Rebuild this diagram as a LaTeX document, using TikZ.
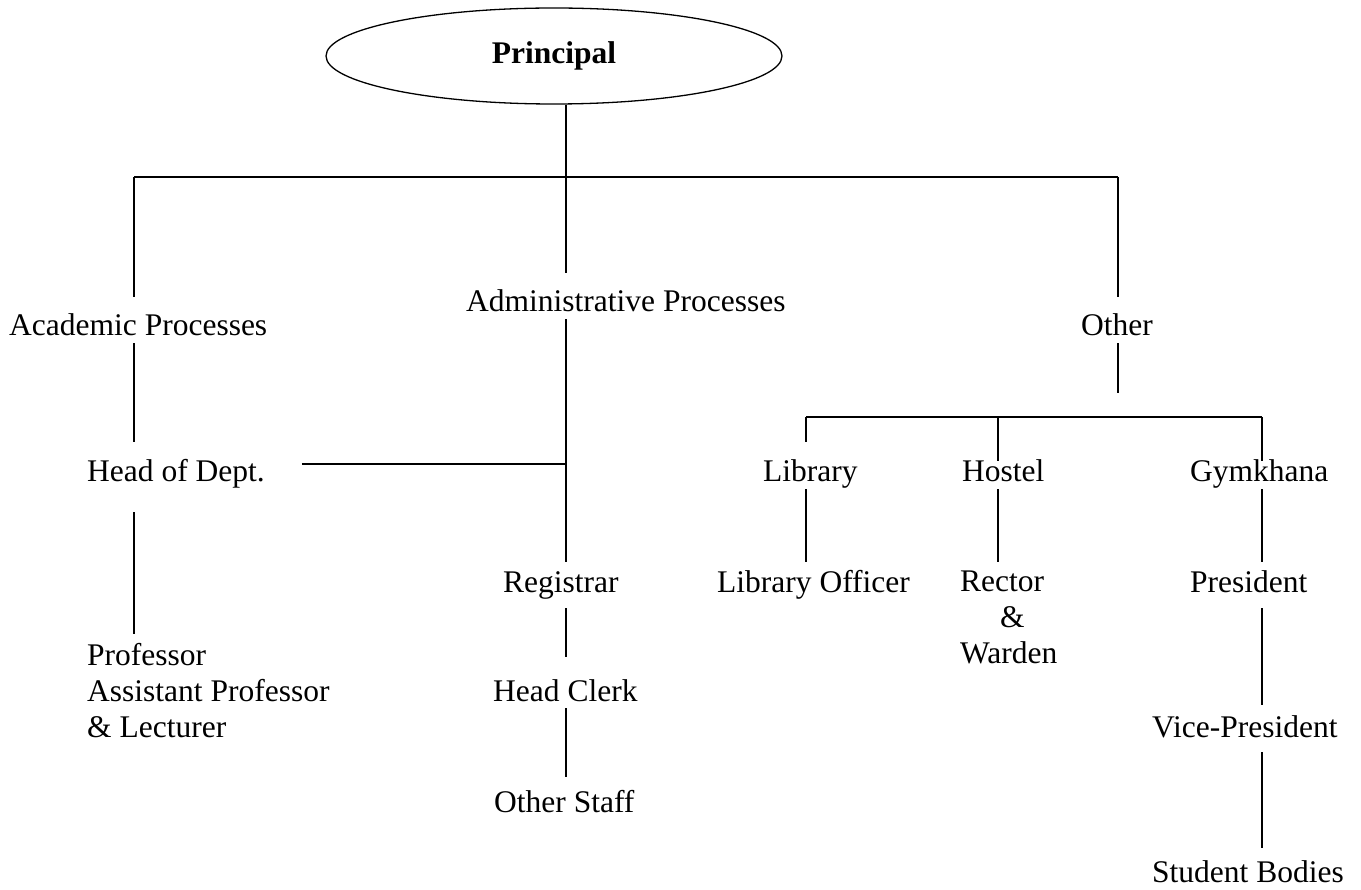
\documentclass[tikz,border=0pt]{standalone}
\usepackage{fontspec}
\setmainfont{Liberation Serif}
\usetikzlibrary{shapes.geometric}

\tikzstyle{lbl} = [inner sep=0pt, anchor=base west, text height=21pt, text depth=7pt, font=\fontsize{31.5}{36}\selectfont]
\tikzstyle{multi} = [inner sep=0pt, anchor=north west, align=left, font=\fontsize{31.5}{36}\selectfont]
\tikzstyle{link} = [line width=1.6pt]

\begin{document}
\begin{tikzpicture}[x=1pt,y=-1pt]
\useasboundingbox (0,0) rectangle (1361,890);

% Principal
\node [draw, ellipse, line width=1.3pt, minimum width=456pt, minimum height=96pt, inner sep=0pt, font=\fontsize{31.5}{36}\selectfont\bfseries] (prin) at (554,56) {Principal};

% main bus
\coordinate (busL) at (134,177);
\coordinate (bus) at (566,177);
\coordinate (busR) at (1118,177);

% first level
\node [lbl] (acad) at (9,336) {Academic Processes};
\node [lbl] (admin) at (466,312) {Administrative Processes};
\node [lbl] (other) at (1081,336) {Other};

% Academic side
\node [lbl] (hod) at (87,482) {Head of Dept.};
\node [multi] (prof) at (87,643.5) {Professor\\Assistant Professor\\\& Lecturer};

% Administrative side
\node [lbl] (reg) at (503,592) {Registrar};
\node [lbl] (clerk) at (493,701) {Head Clerk};
\node [lbl] (staff) at (494,812) {Other Staff};
\coordinate (hodjoin) at (566,464);

% Other side
\coordinate (libbus) at (806,417);
\coordinate (hostbus) at (998,417);
\coordinate (gymbus) at (1262,417);
\node [lbl] (lib) at (763,482) {Library};
\node [lbl] (hostel) at (962,482) {Hostel};
\node [lbl] (gym) at (1190,482) {Gymkhana};
\node [lbl] (libo) at (717,592) {Library Officer};
\node [multi] (rector) at (960,571) {Rector\\\hspace*{40pt}\&\\Warden};
\node [lbl] (pres) at (1190,592) {President};
\node [lbl] (vp) at (1152,737) {Vice-President};
\node [lbl] (sb) at (1152,882) {Student Bodies};

% connectors
\draw [link] (prin.south -| bus) -- (bus);
\draw [link] (busL) -- (busR);
\draw [link, shorten >=18pt] (busL) -- (acad.north -| busL);
\draw [link, shorten >=18pt] (bus) -- (admin.north -| bus);
\draw [link, shorten >=18pt] (busR) -- (other.north -| busR);

\draw [link, shorten >=19pt] (acad.south -| busL) -- (hod.north -| busL);
\draw [link, shorten <=23pt, shorten >=10pt] (hod.south -| busL) -- (prof.north -| busL);
\draw [link] ([xshift=37pt]hod.east |- hodjoin) -- (hodjoin);

\draw [link, shorten >=9pt] (admin.south -| bus) -- (reg.north -| bus);
\draw [link, shorten <=9pt, shorten >=23pt] (reg.south -| bus) -- (clerk.north -| bus);
\draw [link, shorten >=14pt] (clerk.south -| bus) -- (staff.north -| bus);

\draw [link, shorten >=24pt] (other.south -| busR) -- (busR |- libbus);
\draw [link] (libbus) -- (gymbus);
\draw [link, shorten >=19pt] (libbus) -- (lib.north -| libbus);
\draw [link] (hostbus) -- (hostel.north -| hostbus);
\draw [link] (gymbus) -- (gym.north -| gymbus);
\draw [link, shorten >=9pt] (lib.south -| libbus) -- (libo.north -| libbus);
\draw [link, shorten >=9pt] (hostel.south -| hostbus) -- (rector.north -| hostbus);
\draw [link, shorten >=9pt] (gym.south -| gymbus) -- (pres.north -| gymbus);
\draw [link, shorten <=9pt, shorten >=11pt] (pres.south -| gymbus) -- (vp.north -| gymbus);
\draw [link, shorten <=8pt, shorten >=13pt] (vp.south -| gymbus) -- (sb.north -| gymbus);

\end{tikzpicture}
\end{document}
